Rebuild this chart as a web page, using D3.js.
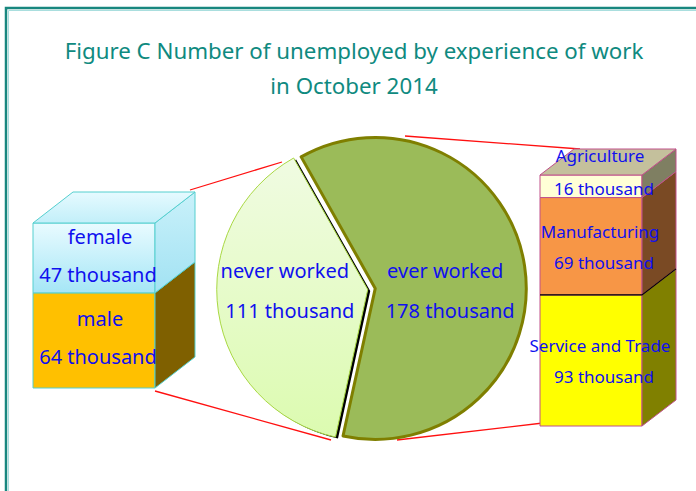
<!DOCTYPE html>
<html>
<head>
<meta charset="utf-8">
<script src="https://cdn.jsdelivr.net/npm/d3@7"></script>
<style>
  body { margin: 0; background: #fff; }
  svg { display: block; }
  text { font-family: "Noto Sans", sans-serif; }
</style>
</head>
<body>
<svg id="chart" width="696" height="491"></svg>
<script>
// data (thousand persons)
const titleLines = ["Figure C Number of unemployed by experience of work", "in October 2014"];
const pieCats = ["ever worked", "never worked"];
const pieVals = [178, 111];
const sexCats = ["male", "female"];
const sexVals = [64, 47];
const indCats = ["Service and Trade", "Manufacturing", "Agriculture"];
const indVals = [93, 69, 16];

const width = 696, height = 491;
const svg = d3.select("#chart");
const defs = svg.append("defs");

function grad(id, c1, c2) {
    const g = defs.append("linearGradient").attr("id", id)
        .attr("x1", 0).attr("y1", 0).attr("x2", 0).attr("y2", 1);
    g.append("stop").attr("offset", "0%").attr("stop-color", c1);
    g.append("stop").attr("offset", "100%").attr("stop-color", c2);
}
grad("gNever", "#f0fbe2", "#dcfbb0");
grad("gFemale", "#e9fbff", "#a5e6f6");
grad("gFemaleSide", "#c9f1fa", "#a2e2f3");
grad("gFemaleTop", "#e6faff", "#c2eff9");

// frame
svg.append("path")
    .attr("d", d3.line()([[6, height], [6, 8], [width, 8]]))
    .attr("fill", "none").attr("stroke", "#18877f").attr("stroke-width", 2.5);
svg.append("path")
    .attr("d", d3.line()([[8.5, height], [8.5, 10.5], [width, 10.5]]))
    .attr("fill", "none").attr("stroke", "#a9dede").attr("stroke-width", 1);

// title
svg.append("g").selectAll("text").data(titleLines).enter().append("text")
    .attr("x", 354).attr("y", (d, i) => 59 + i * 35)
    .attr("text-anchor", "middle")
    .attr("fill", "#0f8a80").attr("font-size", 22.3)
    .text(d => d);

// connector lines
const red = [
    [[190, 190], [282, 162]],
    [[155, 391], [331, 440]],
    [[405, 136], [580, 149]],
    [[397, 440], [543, 423]]
];
svg.append("g").selectAll("path").data(red).enter().append("path")
    .attr("d", d => d3.line()(d))
    .attr("stroke", "#ff1010").attr("stroke-width", 1.3).attr("fill", "none");

// pie
const cx = 371.5, cy = 289, r = 151;
const a0 = -29.4 * Math.PI / 180;
const pie = d3.pie().sort(null).startAngle(a0).endAngle(a0 + 2 * Math.PI);
const arcs = pie(pieVals);
const arc = d3.arc().innerRadius(0).outerRadius(r);
const explode = 3.8;
const pieG = svg.append("g").attr("transform", `translate(${cx},${cy})`);

arcs.forEach((a, i) => {
    const mid = (a.startAngle + a.endAngle) / 2;
    const ox = Math.sin(mid) * explode, oy = -Math.cos(mid) * explode;
    const g = pieG.append("g").attr("transform", `translate(${ox},${oy})`);
    if (i === 1) {
        g.append("path").attr("d", arc(a))
            .attr("transform", "translate(2.5,1.5)")
            .attr("fill", "#000");
        g.append("path").attr("d", arc(a))
            .attr("fill", "url(#gNever)")
            .attr("stroke", "#a9d843").attr("stroke-width", 1);
    } else {
        g.append("path").attr("d", arc(a))
            .attr("fill", "#9bbb59")
            .attr("stroke", "#7f7f00").attr("stroke-width", 3)
            .attr("stroke-linejoin", "round");
    }
});

const labelArc = d3.arc().innerRadius(r * 0.5).outerRadius(r * 0.5);
const pieLab = pieG.append("g").selectAll("g").data(arcs).enter().append("g")
    .attr("transform", (d, i) => {
        const c = labelArc.centroid(d);
        return `translate(${c[0] + (i === 1 ? -12 : -1)},-11)`;
    });
pieLab.append("text").attr("text-anchor", "middle")
    .attr("fill", "#1010ee").attr("font-size", 20)
    .text((d, i) => pieCats[i]);
pieLab.append("text").attr("text-anchor", "middle").attr("y", 40)
    .attr("x", 5)
    .attr("fill", "#1010ee").attr("font-size", 20)
    .text((d, i) => pieVals[i] + " thousand");

// stacked 3D boxes
function stackUp(vals) {
    let acc = 0;
    return vals.map(v => { const s = acc; acc += v; return [s, acc]; });
}

function drawBox(opt) {
    const segs = stackUp(opt.vals);
    const total = d3.sum(opt.vals);
    const y = d3.scaleLinear().domain([0, total]).range([opt.bottom, opt.top]);
    const x0 = opt.x0, x1 = opt.x1, dx = opt.dx, dy = opt.dy;
    const g = svg.append("g");
    const poly = pts => d3.line()(pts) + "Z";

    segs.forEach((s, i) => {
        const yb = y(s[0]), yt = y(s[1]);
        g.append("path").attr("d", poly([[x0, yt], [x1, yt], [x1, yb], [x0, yb]]))
            .attr("fill", opt.front[i]).attr("stroke", opt.stroke).attr("stroke-width", 1);
        g.append("path").attr("d", poly([[x1, yt], [x1 + dx, yt + dy], [x1 + dx, yb + dy], [x1, yb]]))
            .attr("fill", opt.side[i]).attr("stroke", opt.stroke).attr("stroke-width", 1);
    });
    const yTop = y(total);
    g.append("path").attr("d", poly([[x0, yTop], [x0 + dx, yTop + dy], [x1 + dx, yTop + dy], [x1, yTop]]))
        .attr("fill", opt.topFill).attr("stroke", opt.stroke).attr("stroke-width", 1);
    if (opt.divider !== undefined) {
        const yd = y(segs[opt.divider][1]);
        g.append("path").attr("d", d3.line()([[x0, yd], [x1, yd], [x1 + dx, yd + dy]]))
            .attr("stroke", "#000").attr("stroke-width", 1.2).attr("fill", "none");
    }

    // labels
    segs.forEach((s, i) => {
        const yb = y(s[0]), yt = y(s[1]);
        const mid = (yb + yt) / 2;
        const small = (yb - yt) < 40;
        const nameY = small ? yt - 13 : mid + opt.nameOff;
        const valY = small ? mid + 8.5 : mid + opt.valOff;
        g.append("text").attr("x", opt.labelX[0]).attr("y", nameY)
            .attr("text-anchor", "middle").attr("fill", "#1010ee").attr("font-size", opt.fs)
            .text(opt.cats[i]);
        g.append("text").attr("x", opt.labelX[1]).attr("y", valY)
            .attr("text-anchor", "middle").attr("fill", "#1010ee").attr("font-size", opt.fs)
            .text(opt.vals[i] + " thousand");
    });
}

drawBox({
    vals: sexVals, cats: sexCats,
    x0: 33, x1: 155, top: 223, bottom: 388, dx: 40, dy: -31,
    front: ["#ffc000", "url(#gFemale)"],
    side: ["#7f6000", "url(#gFemaleSide)"],
    topFill: "url(#gFemaleTop)", stroke: "#55cfcf",
    nameOff: -14, valOff: 24, labelX: [100, 98], fs: 20
});

drawBox({
    vals: indVals, cats: indCats,
    x0: 540, x1: 642, top: 175, bottom: 426, dx: 34, dy: -26,
    front: ["#ffff00", "#f79646", "#ffffd6"],
    side: ["#808000", "#7a4a24", "#7f7f62"],
    topFill: "#c4c09c", stroke: "#c0508a", divider: 0,
    nameOff: -8.5, valOff: 23, labelX: [600, 604], fs: 17
});
</script>
</body>
</html>
